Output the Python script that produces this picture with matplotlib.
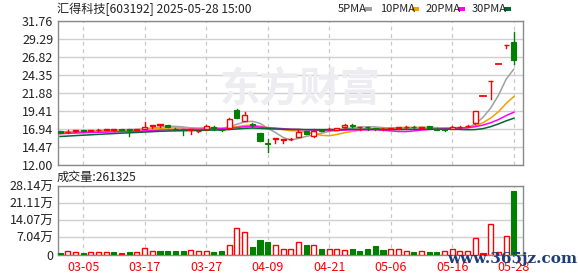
import matplotlib
matplotlib.use('Agg')
import matplotlib.pyplot as plt
from matplotlib.patches import Rectangle
import numpy as np

plt.rcParams['font.family'] = ['Noto Sans CJK SC', 'DejaVu Sans']

# ---------------- data ----------------
dates = ['02-28', '03-03', '03-04', '03-05', '03-06', '03-07', '03-10', '03-11', '03-12', '03-13',
         '03-14', '03-17', '03-18', '03-19', '03-20', '03-21', '03-24', '03-25', '03-26', '03-27',
         '03-28', '03-31', '04-01', '04-02', '04-03', '04-07', '04-08', '04-09', '04-10', '04-11',
         '04-14', '04-15', '04-16', '04-17', '04-18', '04-21', '04-22', '04-23', '04-24', '04-25',
         '04-28', '04-29', '04-30', '05-06', '05-07', '05-08', '05-09', '05-12', '05-13', '05-14',
         '05-15', '05-16', '05-19', '05-20', '05-21', '05-22', '05-23', '05-26', '05-27', '05-28']

opens = [16.60, 16.50, 16.68, 16.76, 16.66, 16.74, 16.82, 16.86, 16.96, 16.90,
         16.84, 16.98, 17.42, 17.52, 17.50, 17.00, 16.95, 16.82, 16.60, 16.98,
         17.20, 16.95, 17.10, 19.60, 18.05, 17.60, 16.40, 15.00, 15.55, 15.40,
         15.50, 15.90, 16.60, 15.95, 16.80, 16.90, 16.85, 17.20, 17.45, 17.15,
         17.22, 17.10, 16.95, 16.98, 17.10, 17.15, 17.25, 17.10, 17.30, 17.00,
         16.90, 17.00, 17.20, 17.35, 17.70, 21.40, 23.50, 25.89, 28.40, 28.90]
highs = [16.65, 16.80, 16.85, 16.80, 16.82, 16.88, 16.98, 16.96, 16.99, 16.96,
         16.98, 17.95, 17.50, 17.60, 17.52, 17.05, 17.00, 16.98, 16.75, 17.45,
         17.30, 17.00, 18.40, 19.65, 19.25, 17.75, 16.42, 15.60, 15.70, 15.55,
         15.65, 17.00, 16.65, 16.90, 16.85, 17.05, 17.10, 17.58, 17.58, 17.25,
         17.25, 17.12, 17.05, 17.05, 17.25, 17.35, 17.35, 17.28, 17.32, 17.02,
         16.95, 17.30, 17.32, 17.45, 19.45, 21.40, 23.55, 25.89, 28.47, 30.20]
lows = [16.35, 16.40, 16.55, 16.60, 16.60, 16.70, 16.75, 16.70, 16.80, 16.00,
        16.78, 16.92, 17.10, 17.28, 17.20, 16.85, 16.05, 16.30, 16.50, 16.85,
        16.80, 16.60, 17.00, 18.40, 18.00, 17.20, 15.30, 13.80, 15.05, 15.00,
        15.45, 15.85, 16.20, 15.90, 16.60, 16.75, 16.80, 17.10, 17.20, 16.85,
        16.85, 16.85, 16.85, 16.90, 17.00, 17.00, 17.05, 17.10, 17.10, 16.80,
        16.70, 16.95, 17.10, 17.20, 17.60, 21.40, 21.10, 25.89, 28.10, 25.90]
closes = [16.45, 16.58, 16.75, 16.68, 16.74, 16.84, 16.88, 16.90, 16.86, 16.86,
          16.92, 17.28, 17.48, 17.58, 17.25, 16.92, 16.88, 16.88, 16.70, 17.30,
          17.05, 16.75, 18.35, 18.50, 18.90, 17.50, 15.35, 14.95, 15.65, 15.50,
          15.60, 16.55, 16.30, 16.65, 16.65, 16.96, 17.05, 17.45, 17.38, 17.20,
          17.15, 16.95, 16.98, 17.02, 17.15, 17.20, 17.20, 17.28, 17.12, 16.85,
          16.85, 17.15, 17.28, 17.42, 19.45, 21.40, 23.53, 25.89, 28.47, 26.40]
# closes before the visible window (only used to start the moving averages)
pre_closes = [14.9, 14.8, 15.0, 15.1, 15.0, 15.2, 15.3, 15.2, 15.4, 15.5,
              15.7, 15.9, 16.0, 16.2, 16.1, 16.3, 16.2, 16.4, 16.3, 16.4,
              16.3, 16.4, 16.35, 16.4, 16.3, 16.5, 16.6, 16.55, 16.65]

volumes_wan = [0.6, 1.3, 0.9, 0.6, 0.9, 0.9, 0.9, 1.0, 0.6, 1.0,
               0.9, 2.6, 1.3, 1.45, 1.45, 1.45, 1.45, 1.9, 1.3, 1.3,
               1.0, 1.45, 3.8, 10.9, 9.2, 3.1, 6.0, 5.2, 3.8, 2.2,
               2.2, 5.2, 4.0, 3.8, 2.3, 2.15, 2.15, 1.7, 2.3, 1.45,
               2.3, 3.5, 1.9, 2.15, 2.15, 1.45, 1.0, 1.45, 1.0, 1.0,
               1.45, 2.15, 1.45, 1.45, 6.7, 0.6, 12.7, 1.0, 7.7, 26.1325]
# h = hollow red, f = filled red, g = green
volume_style = list("ghhghhhgfg" "hhhgggghhh" "gghhhggghh" "hhghghhhgg"
                    "ggghhhghgg" "hhhhhfhhhg")

price_ticks = [12.00, 14.47, 16.94, 19.41, 21.88, 24.35, 26.82, 29.29, 31.76]
vol_ticks = [0, 7.04, 14.07, 21.11, 28.14]
vol_tick_labels = ['0', '7.04万', '14.07万', '21.11万', '28.14万']
date_ticks = ['03-05', '03-17', '03-27', '04-09', '04-21', '05-06', '05-16', '05-28']
ma_periods = [5, 10, 20, 30]
ma_names = ['5PMA', '10PMA', '20PMA', '30PMA']

title = '汇得科技[603192] 2025-05-28 15:00'
volume_title = '成交量:261325'

# ---------------- style ----------------
RED = '#ff0000'
GREEN = '#008000'
MA_COLORS = ['#a0a0a0', '#f0a000', '#ff00ff', '#006633']
GRID = '#d0d0d0'
SPINE = '#8a8a8a'
TXT = '#222222'

W, H = 578, 276
fig = plt.figure(figsize=(W / 100, H / 100), dpi=100)
fig.patch.set_facecolor('white')


def rect(l, t, r, b):
    return [l / W, 1 - b / H, (r - l) / W, (b - t) / H]


ax = fig.add_axes(rect(57.5, 21, 522.5, 165))
axv = fig.add_axes(rect(57.5, 186, 522.5, 254.5))

n = len(closes)
xs = np.arange(n)
bw = 0.66

# watermark
fig.text(300 / W, 1 - 90 / H, '东方财富', fontsize=29, color='#ececf1',
         fontweight='bold', ha='center', va='center', zorder=0,
         family=['Noto Sans CJK SC', 'DejaVu Sans'])

for a in (ax, axv):
    a.set_facecolor('none')
    for s in a.spines.values():
        s.set_color(SPINE)
        s.set_linewidth(1)
    a.set_xlim(-0.33, n + 0.14)
    for d in date_ticks:
        a.axvline(dates.index(d), color='#c8c8c8', lw=0.9, ls=(0, (3, 3)), zorder=1)
    a.tick_params(length=0, labelsize=9, colors=TXT, pad=3)

# price axes
ax.set_ylim(price_ticks[0], price_ticks[-1])
ax.set_yticks(price_ticks)
ax.set_yticklabels(['%.2f' % t for t in price_ticks])
ax.grid(axis='y', color=GRID, lw=1)
ax.set_axisbelow(True)
ax.set_xticks([])

for i in range(n):
    o, h, l, c = opens[i], highs[i], lows[i], closes[i]
    prev = closes[i - 1] if i > 0 else o
    if c > o:
        ax.add_patch(Rectangle((xs[i] - bw / 2, o), bw, c - o, facecolor='white',
                               edgecolor=RED, lw=1, zorder=4))
        ax.plot([xs[i], xs[i]], [c, h], color=RED, lw=1, zorder=4)
        ax.plot([xs[i], xs[i]], [l, o], color=RED, lw=1, zorder=4)
    elif c < o:
        ax.plot([xs[i], xs[i]], [l, h], color=GREEN, lw=1, zorder=4)
        ax.add_patch(Rectangle((xs[i] - bw / 2, c), bw, o - c, facecolor=GREEN,
                               edgecolor=GREEN, lw=0.8, zorder=4))
    else:
        col = RED if c >= prev else GREEN
        ax.plot([xs[i] - bw / 2, xs[i] + bw / 2], [c, c], color=col, lw=1.3, zorder=4)
        ax.plot([xs[i], xs[i]], [l, h], color=col, lw=1, zorder=4)

allc = np.array(pre_closes + closes)
for p, col in zip(ma_periods, MA_COLORS):
    ma = np.convolve(allc, np.ones(p) / p, mode='valid')[-n:]
    ax.plot(xs, ma, color=col, lw=1.1, zorder=3)

# volume axes
axv.set_ylim(0, vol_ticks[-1])
axv.set_yticks(vol_ticks)
axv.set_yticklabels(vol_tick_labels)
axv.grid(axis='y', color=GRID, lw=1)
axv.set_axisbelow(True)
axv.set_xticks([dates.index(d) for d in date_ticks])
axv.set_xticklabels(date_ticks, color=RED)
axv.tick_params(axis='x', pad=5)

for i in range(n):
    v, st = volumes_wan[i], volume_style[i]
    if st == 'h':
        axv.add_patch(Rectangle((xs[i] - bw / 2, 0), bw, v, facecolor='white',
                                edgecolor=RED, lw=1, zorder=4))
    elif st == 'f':
        axv.add_patch(Rectangle((xs[i] - bw / 2, 0), bw, v, facecolor=RED,
                                edgecolor=RED, lw=0.8, zorder=4))
    else:
        axv.add_patch(Rectangle((xs[i] - bw / 2, 0), bw, v, facecolor=GREEN,
                                edgecolor=GREEN, lw=0.8, zorder=4))

# texts
fig.text(57 / W, 1 - 9 / H, title, fontsize=8.7, color=TXT, ha='left', va='center')
fig.text(57 / W, 1 - 177 / H, volume_title, fontsize=8.7, color=TXT, ha='left', va='center')

# legend
lx = [338, 380, 426, 472]
for xpos, name, col in zip(lx, ma_names, MA_COLORS):
    fig.text(xpos / W, 1 - 9 / H, name, fontsize=8, color=TXT, ha='left', va='center')
    fig.patches.append(Rectangle(((xpos + 28 + (4 if len(name) > 4 else -1)) / W, 1 - 10.5 / H),
                                 7 / W, 3.5 / H, facecolor=col, edgecolor='none',
                                 transform=fig.transFigure, figure=fig))

# site watermark
fig.text(512 / W, 1 - 259 / H, 'www.365jz.com', fontsize=11, color='#1e3c78',
         fontweight='bold', family='DejaVu Serif', ha='center', va='center', zorder=10)

fig.savefig('out.png', dpi=100)
